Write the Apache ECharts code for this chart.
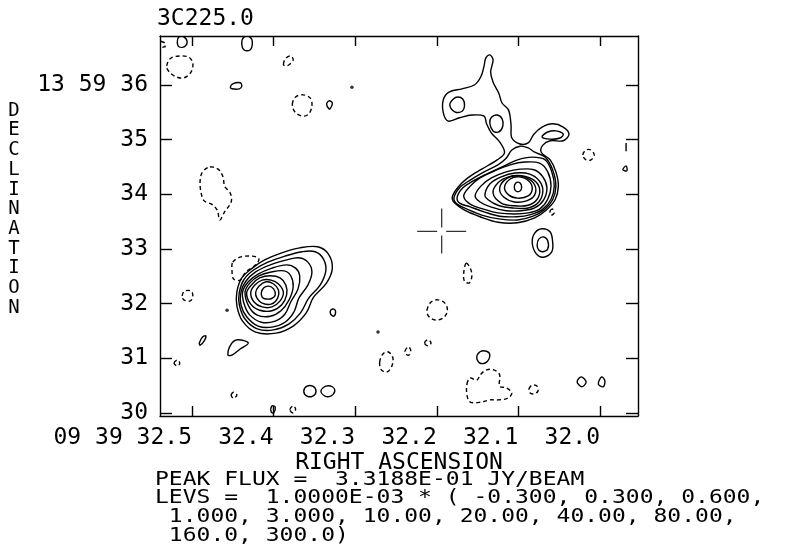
<!DOCTYPE html>
<html><head><meta charset="utf-8">
<script src="https://cdn.jsdelivr.net/npm/echarts@6/dist/echarts.min.js"></script>
<style>html,body{margin:0;background:#fff}#c{width:787px;height:554px}</style>
</head><body><div id="c"></div>
<script>
// ---------- axes (RA in seconds of time, Dec in arcsec) ----------
const raMin = 31.9534, raMax = 32.5392;
const decMin = 29.945, decMax = 36.896;
const raTicks = [32.5, 32.4, 32.3, 32.2, 32.1, 32.0];
const raTickLabels = ['09 39 32.5', '32.4', '32.3', '32.2', '32.1', '32.0'];
const decTicks = [30, 31, 32, 33, 34, 35, 36];
const decTickLabels = ['30', '31', '32', '33', '34', '35', '13 59 36'];
const peakFlux = '3.3188E-01';
const levBase = '1.0000E-03';
const levels = ['-0.300', '0.300', '0.600', '1.000', '3.000', '10.00', '20.00', '40.00', '80.00', '160.0', '300.0'];

// ---------- eastern (left) source contours [RA, Dec] ----------
const eastC1 = [[32.445,32.21],[32.439,32.47],[32.426,32.65],[32.411,32.80],[32.390,32.93],[32.368,33.02],[32.346,33.04],[32.333,32.91],[32.328,32.65],[32.335,32.38],[32.351,32.12],[32.360,31.83],[32.376,31.59],[32.397,31.46],[32.422,31.48],[32.438,31.68],[32.445,31.96]];
const eastC2 = [[32.442,32.21],[32.436,32.45],[32.424,32.62],[32.407,32.76],[32.386,32.87],[32.365,32.95],[32.349,32.95],[32.339,32.82],[32.336,32.60],[32.343,32.34],[32.357,32.10],[32.367,31.83],[32.381,31.63],[32.400,31.52],[32.420,31.54],[32.435,31.72],[32.442,31.98]];
const eastC3 = [[32.440,32.21],[32.434,32.41],[32.422,32.58],[32.404,32.71],[32.384,32.80],[32.369,32.84],[32.358,32.76],[32.353,32.58],[32.358,32.34],[32.369,32.10],[32.375,31.85],[32.386,31.66],[32.402,31.57],[32.419,31.59],[32.433,31.76],[32.440,31.98]];
const eastC4 = [[32.438,32.21],[32.431,32.40],[32.419,32.54],[32.402,32.65],[32.384,32.71],[32.373,32.65],[32.368,32.51],[32.370,32.27],[32.379,32.03],[32.386,31.81],[32.398,31.68],[32.415,31.66],[32.429,31.79],[32.436,31.99]];
const eastC5 = [[32.435,32.21],[32.429,32.38],[32.418,32.51],[32.403,32.58],[32.387,32.60],[32.379,32.51],[32.376,32.31],[32.381,32.07],[32.391,31.87],[32.404,31.77],[32.420,31.79],[32.430,31.94]];
const eastC6 = [[32.433,32.20],[32.426,32.36],[32.417,32.47],[32.404,32.51],[32.392,32.47],[32.385,32.34],[32.384,32.16],[32.390,31.98],[32.402,31.87],[32.417,31.88],[32.428,31.99]];
const eastC7 = [[32.428,32.20],[32.423,32.34],[32.414,32.43],[32.403,32.43],[32.394,32.36],[32.388,32.21],[32.392,32.05],[32.402,31.94],[32.414,31.94],[32.424,32.03]];
const eastC8 = [[32.422,32.20],[32.418,32.32],[32.409,32.40],[32.400,32.36],[32.394,32.25],[32.395,32.10],[32.403,31.99],[32.414,32.01],[32.420,32.09]];
const eastC9 = [[32.415,32.20],[32.412,32.29],[32.406,32.32],[32.400,32.27],[32.398,32.16],[32.403,32.09],[32.411,32.09],[32.414,32.12]];
const eastNeg = [[32.450,32.76],[32.441,32.85],[32.426,32.87],[32.418,32.82],[32.422,32.71],[32.434,32.58],[32.441,32.43],[32.449,32.45],[32.451,32.62]];

// ---------- western (right) source contours ----------
const westC1 = [[32.181,33.95],[32.174,34.13],[32.162,34.30],[32.145,34.46],[32.126,34.63],[32.117,34.76],[32.123,34.96],[32.133,35.12],[32.139,35.29],[32.142,35.43],[32.157,35.45],[32.172,35.40],[32.186,35.34],[32.192,35.49],[32.192,35.73],[32.185,35.87],[32.169,35.93],[32.154,36.00],[32.146,36.15],[32.142,36.35],[32.140,36.49],[32.135,36.55],[32.131,36.46],[32.134,36.24],[32.131,36.05],[32.124,35.85],[32.120,35.67],[32.112,35.54],[32.109,35.27],[32.108,35.03],[32.098,34.92],[32.088,34.94],[32.081,35.10],[32.071,35.23],[32.058,35.29],[32.045,35.23],[32.038,35.10],[32.045,34.98],[32.061,34.98],[32.070,34.90],[32.072,34.77],[32.061,34.63],[32.054,34.41],[32.051,34.15],[32.055,33.90],[32.066,33.71],[32.080,33.57],[32.101,33.48],[32.125,33.49],[32.147,33.59],[32.166,33.71],[32.178,33.84]];
const westC2 = [[32.179,33.93],[32.172,34.12],[32.159,34.26],[32.142,34.41],[32.125,34.54],[32.115,34.66],[32.108,34.81],[32.098,34.88],[32.088,34.85],[32.080,34.77],[32.067,34.68],[32.058,34.45],[32.054,34.15],[32.058,33.90],[32.068,33.72],[32.082,33.60],[32.101,33.53],[32.124,33.55],[32.145,33.62],[32.163,33.73],[32.175,33.82]];
const westC3 = [[32.175,33.95],[32.168,34.12],[32.156,34.24],[32.139,34.37],[32.120,34.50],[32.101,34.63],[32.083,34.68],[32.067,34.63],[32.059,34.41],[32.056,34.15],[32.060,33.91],[32.070,33.73],[32.085,33.63],[32.102,33.59],[32.123,33.60],[32.142,33.68],[32.159,33.77],[32.172,33.84]];
const westC4 = [[32.167,33.97],[32.159,34.15],[32.147,34.30],[32.129,34.43],[32.110,34.54],[32.092,34.59],[32.074,34.57],[32.064,34.41],[32.060,34.15],[32.064,33.91],[32.074,33.73],[32.088,33.66],[32.105,33.64],[32.125,33.66],[32.143,33.73],[32.159,33.82]];
const westC5 = [[32.153,33.97],[32.146,34.15],[32.133,34.30],[32.115,34.41],[32.098,34.46],[32.081,34.45],[32.070,34.32],[32.065,34.12],[32.069,33.90],[32.080,33.75],[32.096,33.70],[32.115,33.70],[32.134,33.77],[32.147,33.86]];
const westC6 = [[32.141,33.99],[32.135,34.19],[32.121,34.32],[32.104,34.39],[32.086,34.37],[32.074,34.24],[32.070,34.06],[32.075,33.86],[32.088,33.75],[32.107,33.75],[32.125,33.80],[32.137,33.90]];
const westC7 = [[32.131,34.02],[32.125,34.21],[32.112,34.32],[32.096,34.34],[32.081,34.26],[32.074,34.10],[32.077,33.91],[32.088,33.80],[32.105,33.79],[32.121,33.84]];
const westC8 = [[32.123,34.10],[32.117,34.26],[32.104,34.34],[32.090,34.30],[32.080,34.17],[32.080,33.99],[32.090,33.88],[32.105,33.86],[32.118,33.95]];
const westC9 = [[32.117,34.13],[32.110,34.28],[32.099,34.32],[32.087,34.24],[32.083,34.10],[32.088,33.97],[32.101,33.93],[32.112,33.99]];
const westC10 = [[32.105,34.13],[32.103,34.21],[32.098,34.21],[32.096,34.13],[32.098,34.06],[32.103,34.06]];
const westHoleA = [[32.184,35.63],[32.180,35.74],[32.174,35.78],[32.168,35.74],[32.166,35.63],[32.169,35.52],[32.178,35.51]];
const westHoleB = [[32.135,35.30],[32.133,35.41],[32.126,35.45],[32.120,35.38],[32.119,35.25],[32.124,35.14],[32.131,35.16]];
const westSpur = [[32.071,35.05],[32.064,35.14],[32.054,35.16],[32.045,35.10],[32.049,35.03],[32.061,35.01]];

// ---------- small positive islands ----------
const islandsPos = [
  [[32.518,36.79],[32.516,36.88],[32.510,36.88],[32.506,36.79],[32.509,36.70],[32.516,36.70]],
  [[32.439,36.77],[32.436,36.88],[32.429,36.88],[32.426,36.77],[32.429,36.64],[32.436,36.64]],
  [[32.453,35.96],[32.450,36.02],[32.441,36.04],[32.439,35.98],[32.442,35.93],[32.451,35.93]],
  [[32.335,35.65],[32.332,35.71],[32.328,35.67],[32.330,35.58],[32.332,35.56]],
  [[32.330,31.88],[32.326,31.90],[32.324,31.85],[32.326,31.77],[32.330,31.81]],
  [[32.456,31.06],[32.452,31.26],[32.444,31.34],[32.431,31.28],[32.441,31.17],[32.451,31.06]],
  [[32.491,31.28],[32.487,31.39],[32.483,31.41],[32.485,31.32],[32.490,31.24]],
  [[32.363,30.40],[32.359,30.49],[32.352,30.49],[32.348,30.40],[32.352,30.31],[32.359,30.31]],
  [[32.342,30.40],[32.336,30.49],[32.328,30.48],[32.325,30.40],[32.330,30.31],[32.337,30.31]],
  [[32.402,30.13],[32.398,30.11],[32.400,30.00],[32.403,30.02]],
  [[32.151,31.01],[32.147,31.12],[32.139,31.13],[32.135,31.06],[32.139,30.93],[32.147,30.91]],
  [[32.028,30.57],[32.023,30.66],[32.017,30.57],[32.022,30.48]],
  [[32.002,30.53],[31.998,30.66],[31.994,30.59],[31.996,30.48]],
  [[32.083,33.11],[32.080,33.29],[32.071,33.37],[32.061,33.31],[32.058,33.13],[32.059,32.95],[32.069,32.85],[32.078,32.91]],
  [[32.077,33.07],[32.075,33.18],[32.069,33.22],[32.064,33.15],[32.064,33.00],[32.070,32.95],[32.075,32.98]],
  [[31.972,34.45],[31.968,34.52],[31.967,34.43]]
];
const edgePos = [[[31.968,34.94],[31.968,34.79]]];

// ---------- small negative islands ----------
const islandsNeg = [
  [[32.531,36.35],[32.526,36.49],[32.515,36.53],[32.504,36.51],[32.499,36.40],[32.501,36.24],[32.510,36.13],[32.521,36.16],[32.529,36.26]],
  [[32.388,36.38],[32.385,36.49],[32.379,36.53],[32.376,36.46],[32.381,36.37],[32.386,36.35]],
  [[32.377,35.65],[32.373,35.78],[32.364,35.82],[32.355,35.76],[32.353,35.62],[32.357,35.47],[32.365,35.43],[32.374,35.51]],
  [[32.478,34.50],[32.468,34.46],[32.462,34.32],[32.460,34.15],[32.453,34.02],[32.452,33.86],[32.460,33.68],[32.466,33.53],[32.469,33.71],[32.476,33.82],[32.485,33.88],[32.489,34.04],[32.490,34.26],[32.487,34.41]],
  [[32.512,32.14],[32.509,32.23],[32.501,32.23],[32.499,32.14],[32.502,32.05],[32.510,32.07]],
  [[32.522,30.91],[32.518,30.97],[32.515,30.91],[32.518,30.86]],
  [[32.452,30.33],[32.449,30.38],[32.445,30.33],[32.449,30.27]],
  [[32.380,30.06],[32.376,30.13],[32.373,30.07],[32.376,30.00]],
  [[32.270,30.93],[32.266,31.08],[32.260,31.12],[32.254,31.02],[32.255,30.86],[32.261,30.75],[32.268,30.79]],
  [[32.239,31.13],[32.235,31.21],[32.232,31.15],[32.234,31.06],[32.238,31.08]],
  [[32.215,31.28],[32.211,31.34],[32.207,31.28],[32.211,31.23]],
  [[32.163,30.53],[32.159,30.64],[32.151,30.60],[32.146,30.71],[32.139,30.79],[32.130,30.79],[32.123,30.70],[32.123,30.49],[32.115,30.46],[32.108,30.37],[32.113,30.27],[32.125,30.24],[32.135,30.24],[32.145,30.20],[32.159,30.20],[32.163,30.33]],
  [[32.087,30.44],[32.083,30.51],[32.077,30.49],[32.076,30.40],[32.081,30.35],[32.086,30.37]],
  [[32.164,32.74],[32.159,32.65],[32.157,32.51],[32.160,32.38],[32.166,32.41],[32.167,32.56]],
  [[32.212,31.88],[32.207,32.03],[32.199,32.07],[32.190,32.01],[32.187,31.87],[32.192,31.74],[32.202,31.70],[32.210,31.77]],
  [[32.021,34.72],[32.017,34.81],[32.011,34.81],[32.007,34.72],[32.011,34.63],[32.017,34.63]],
  [[32.061,33.70],[32.058,33.73],[32.056,33.66],[32.060,33.62]]
];
const edgeNeg = [[[32.538,36.80],[32.533,36.77],[32.533,36.70],[32.538,36.68]]];

const dots = [[32.304,35.96],[32.457,31.88],[32.272,31.48]];
const crossMark = [[32.194,33.33]];

// ---------- build ----------
const positiveClosed = [eastC1,eastC2,eastC3,eastC4,eastC5,eastC6,eastC7,eastC8,eastC9,
  westC1,westC2,westC3,westC4,westC5,westC6,westC7,westC8,westC9,westC10,westHoleA,westHoleB,westSpur].concat(islandsPos);
const negativeClosed = [eastNeg].concat(islandsNeg);

const FONT = '"DejaVu Sans Mono", monospace';

function contourSeries(name, list, dashed, closed) {
  return {
    type: 'custom', name: name, coordinateSystem: 'cartesian2d', clip: true, silent: true,
    encode: { x: 0, y: 1 },
    data: list.map((c, i) => [c[0][0], c[0][1], i]),
    renderItem: function (params, api) {
      const pts = list[api.value(2)].map(p => api.coord(p));
      return {
        type: closed ? 'polygon' : 'polyline',
        shape: { points: pts, smooth: closed ? 0.35 : 0 },
        style: { fill: 'none', stroke: '#000', lineWidth: 1.4, lineDash: dashed ? [4, 3] : null }
      };
    }
  };
}

const axisLineStyle = { color: '#000', width: 1.4 };
const chart = echarts.init(document.getElementById('c'), null, { renderer: 'canvas' });
chart.setOption({
  animation: false,
  backgroundColor: '#fff',
  title: { text: '3C225.0', left: 157, top: 8, padding: 0,
    textStyle: { fontFamily: FONT, fontSize: 23, fontWeight: 'normal', color: '#000' } },
  grid: { left: 160, right: 149, top: 36, bottom: 138 },
  xAxis: [
    { type: 'value', min: raMin, max: raMax, inverse: true, position: 'bottom',
      axisLine: { show: true, lineStyle: axisLineStyle },
      axisTick: { show: true, inside: true, length: 10, customValues: raTicks, lineStyle: axisLineStyle },
      axisLabel: { customValues: raTicks, align: 'right', margin: 11, fontFamily: FONT, fontSize: 23, color: '#000',
        formatter: v => { const i = raTicks.findIndex(t => Math.abs(t - v) < 1e-6); return i >= 0 ? raTickLabels[i] : ''; } },
      splitLine: { show: false },
      name: 'RIGHT ASCENSION', nameLocation: 'middle', nameGap: 36, nameMoveOverlap: false,
      nameTextStyle: { fontFamily: FONT, fontSize: 23, color: '#000' } },
    { type: 'value', min: raMin, max: raMax, inverse: true, position: 'top',
      axisLine: { show: true, lineStyle: axisLineStyle },
      axisTick: { show: true, inside: true, length: 10, customValues: raTicks, lineStyle: axisLineStyle },
      axisLabel: { show: false }, splitLine: { show: false } }
  ],
  yAxis: [
    { type: 'value', min: decMin, max: decMax, position: 'left',
      axisLine: { show: true, lineStyle: axisLineStyle },
      axisTick: { show: true, inside: true, length: 12, customValues: decTicks, lineStyle: axisLineStyle },
      axisLabel: { customValues: decTicks, margin: 12, fontFamily: FONT, fontSize: 23, color: '#000',
        formatter: v => { const i = decTicks.indexOf(Math.round(v)); return i >= 0 ? decTickLabels[i] : ''; } },
      splitLine: { show: false } },
    { type: 'value', min: decMin, max: decMax, position: 'right',
      axisLine: { show: true, lineStyle: axisLineStyle },
      axisTick: { show: true, inside: true, length: 12, customValues: decTicks, lineStyle: axisLineStyle },
      axisLabel: { show: false }, splitLine: { show: false } }
  ],
  graphic: [
    { type: 'text', x: 14, y: 101,
      style: { text: 'DECLINATION'.split('').join('\n'), textAlign: 'center', textVerticalAlign: 'top',
        font: '19px "DejaVu Sans Mono", monospace', lineHeight: 19.7, fill: '#000' } },
    { type: 'text', x: 155, y: 470, scaleY: 0.85,
      style: { text: [
          'PEAK FLUX =  ' + peakFlux + ' JY/BEAM',
          'LEVS =  ' + levBase + ' * ( ' + levels.slice(0, 3).join(', ') + ',',
          ' ' + levels.slice(3, 9).join(', ') + ',',
          ' ' + levels.slice(9).join(', ') + ')'
        ].join('\n'),
        textVerticalAlign: 'top', font: '23px "DejaVu Sans Mono", monospace', lineHeight: 22.2, fill: '#000' } }
  ],
  series: [
    contourSeries('Positive contours', positiveClosed, false, true),
    contourSeries('Positive edge', edgePos, false, false),
    contourSeries('Negative contours', negativeClosed, true, true),
    contourSeries('Negative edge', edgeNeg, true, false),
    { type: 'scatter', name: 'Peaks', data: dots, symbolSize: 3.5, itemStyle: { color: '#000' }, silent: true },
    { type: 'scatter', name: 'Reference position', data: crossMark,
      symbol: 'path://M0,23L20,23M29,23L49,23M24.5,0L24.5,19M24.5,27L24.5,45',
      symbolSize: [49, 45], itemStyle: { color: 'none', borderColor: '#000', borderWidth: 1.2 }, silent: true }
  ]
});
</script>
</body></html>
